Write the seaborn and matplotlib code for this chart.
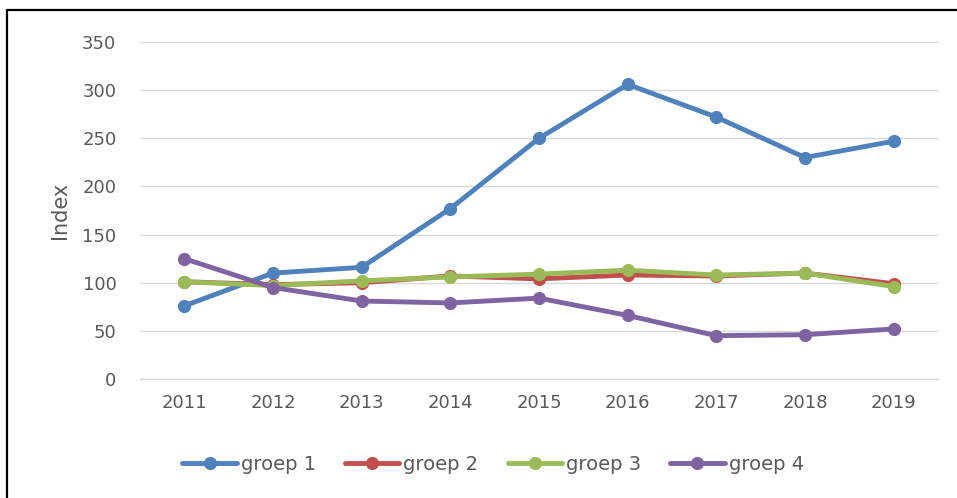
import pandas as pd
import matplotlib.pyplot as plt
import seaborn as sns
from matplotlib.lines import Line2D

# Datos
years = [2011, 2012, 2013, 2014, 2015, 2016, 2017, 2018, 2019]
groep_1 = [76, 110, 116, 177, 250, 306, 272, 230, 247]
groep_2 = [101, 98, 100, 107, 104, 108, 107, 110, 99]
groep_3 = [101, 97, 102, 106, 109, 113, 108, 110, 96]
groep_4 = [125, 95, 81, 79, 84, 66, 45, 46, 52]
series_names = ["groep 1", "groep 2", "groep 3", "groep 4"]
colors = ["#4F81BD", "#C0504D", "#9BBB59", "#8064A2"]

df = pd.DataFrame({"year": years, "groep 1": groep_1, "groep 2": groep_2,
                   "groep 3": groep_3, "groep 4": groep_4})
long = df.melt(id_vars="year", var_name="groep", value_name="index")
# posiciones categóricas
long["pos"] = long["year"].map({y: i for i, y in enumerate(years)})

sns.set_style("white")
plt.rcParams["font.family"] = ["DejaVu Sans"]
grey = "#595959"

fig = plt.figure(figsize=(9.57, 4.98), dpi=100)
ax = fig.add_axes([140 / 957, 1 - 379 / 498, (938 - 140) / 957, (379 - 42) / 498])

sns.lineplot(data=long, x="pos", y="index", hue="groep", hue_order=series_names,
             palette=colors, marker="o", markersize=9.5, markeredgewidth=0,
             linewidth=3.5, legend=False, ax=ax, zorder=3)

ax.set_xlim(-0.5, len(years) - 0.5)
ax.set_ylim(0, 350)
ax.set_yticks(range(0, 351, 50))
ax.set_xticks(range(len(years)))
ax.set_xticklabels([str(y) for y in years])
ax.grid(axis="y", color="#D9D9D9", linewidth=1.0, zorder=0)
for s in ["top", "right", "left"]:
    ax.spines[s].set_visible(False)
ax.spines["bottom"].set_color("#D9D9D9")
ax.spines["bottom"].set_linewidth(1.0)
ax.tick_params(axis="both", length=0, labelsize=13, labelcolor=grey)
ax.tick_params(axis="y", pad=17)
ax.tick_params(axis="x", pad=11)
ax.set_xlabel("")
ax.set_ylabel("Index", fontsize=15, color=grey, labelpad=9)

handles = [Line2D([0], [0], color=c, lw=3.5, marker="o", markersize=9.5,
                  markeredgewidth=0) for c in colors]
fig.legend(handles, series_names, loc="center", bbox_to_anchor=(493 / 957, 1 - 464 / 498),
           ncol=4, frameon=False, fontsize=14, labelcolor=grey, handlelength=2.8,
           handletextpad=0.2, columnspacing=1.5)

# borde del área del gráfico (solo izquierda y arriba visibles)
fig.add_artist(Line2D([7 / 957, 7 / 957], [0, 1 - 10 / 498], color="black", lw=1.6,
                      transform=fig.transFigure))
fig.add_artist(Line2D([7 / 957, 1], [1 - 10 / 498, 1 - 10 / 498], color="black", lw=1.6,
                      transform=fig.transFigure))

fig.savefig("out.png", dpi=100)
